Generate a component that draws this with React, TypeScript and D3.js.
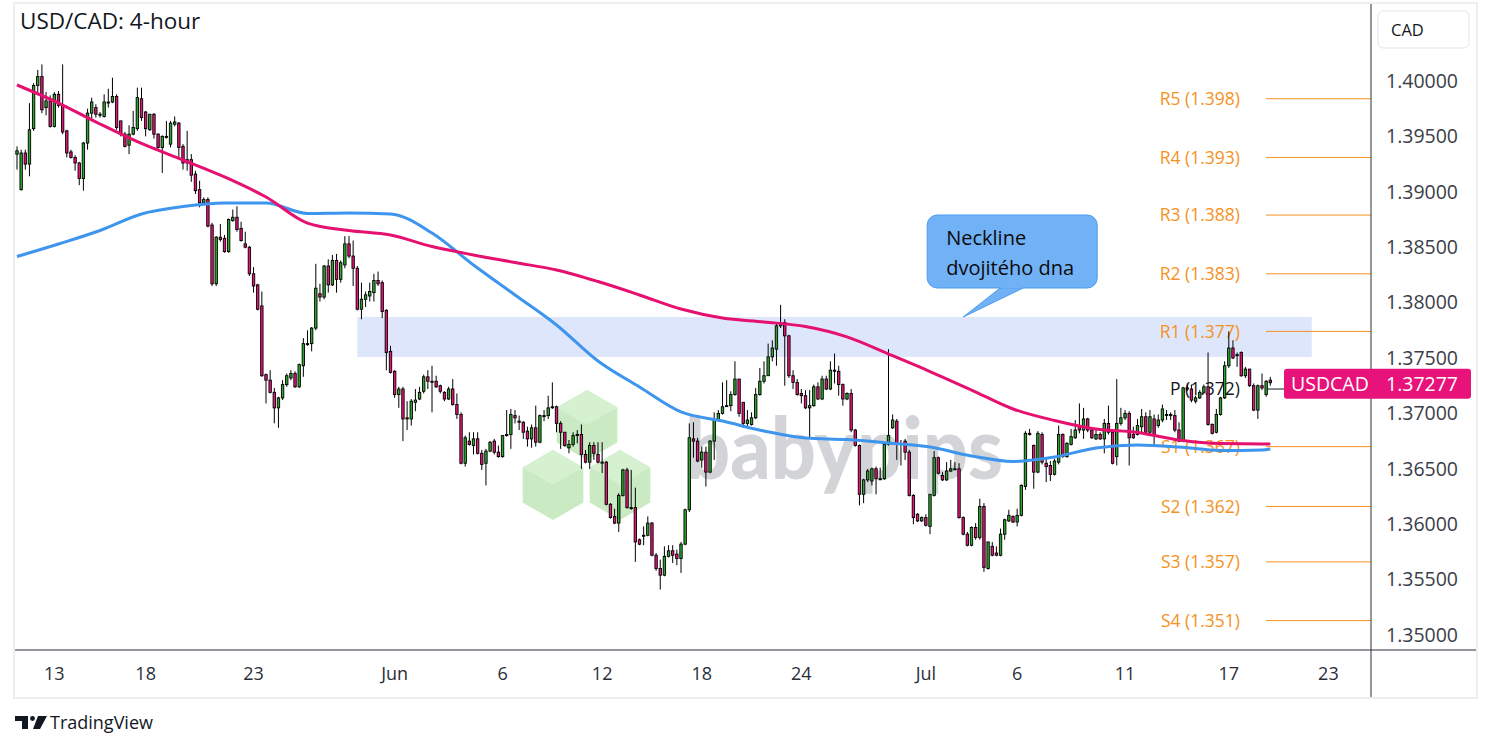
import React from "react";
import * as d3 from "d3";

// USD/CAD 4-hour candles, [open, high, low, close]
const ohlc: [number, number, number, number][] = [
  [1.3934, 1.3941, 1.392, 1.3937], [1.3902, 1.3938, 1.3901, 1.3935], [1.3935, 1.3938, 1.392, 1.3925],
  [1.3925, 1.398, 1.3914, 1.3956], [1.3957, 1.3998, 1.3955, 1.3996], [1.3996, 1.401, 1.3988, 1.4004],
  [1.4004, 1.4015, 1.3971, 1.3974], [1.3976, 1.399, 1.3969, 1.3982], [1.3982, 1.3987, 1.3958, 1.3959],
  [1.3959, 1.399, 1.3958, 1.3988], [1.3988, 1.3991, 1.3976, 1.3978], [1.3978, 1.4015, 1.3952, 1.3954],
  [1.3955, 1.3956, 1.3931, 1.3935], [1.3936, 1.3938, 1.393, 1.3931], [1.3931, 1.3933, 1.3919, 1.3926],
  [1.3926, 1.3927, 1.3906, 1.3912], [1.3912, 1.3945, 1.3901, 1.3944], [1.3944, 1.3975, 1.3938, 1.3971],
  [1.3971, 1.3985, 1.3966, 1.3981], [1.3976, 1.3979, 1.3967, 1.397], [1.397, 1.3972, 1.3967, 1.397],
  [1.3968, 1.3988, 1.3967, 1.3981], [1.3981, 1.3993, 1.3976, 1.3981], [1.3981, 1.4003, 1.398, 1.3986],
  [1.3986, 1.3988, 1.3956, 1.3958], [1.3964, 1.3964, 1.395, 1.3952], [1.3952, 1.3954, 1.394, 1.3941],
  [1.3942, 1.396, 1.3934, 1.3952], [1.3952, 1.3973, 1.3951, 1.3958], [1.3957, 1.3994, 1.3955, 1.3985],
  [1.3984, 1.3994, 1.3964, 1.3967], [1.3972, 1.3973, 1.395, 1.3957], [1.3956, 1.397, 1.3955, 1.397],
  [1.397, 1.3971, 1.3948, 1.3952], [1.3952, 1.3953, 1.3939, 1.394], [1.394, 1.3951, 1.3917, 1.395],
  [1.395, 1.3964, 1.3948, 1.395], [1.3943, 1.3964, 1.394, 1.3962], [1.3961, 1.3968, 1.3959, 1.3963],
  [1.3962, 1.3963, 1.3931, 1.394], [1.3941, 1.3943, 1.392, 1.3926], [1.3926, 1.3955, 1.3919, 1.3929],
  [1.3929, 1.3934, 1.3909, 1.3915], [1.3916, 1.3919, 1.3898, 1.3901], [1.3902, 1.391, 1.3886, 1.389],
  [1.389, 1.3895, 1.3888, 1.3893], [1.3893, 1.3895, 1.3868, 1.3869], [1.387, 1.3872, 1.3815, 1.3817],
  [1.3817, 1.386, 1.3815, 1.3859], [1.3859, 1.3871, 1.3855, 1.3857], [1.3858, 1.3861, 1.3845, 1.3846],
  [1.3846, 1.3876, 1.3845, 1.3875], [1.3874, 1.3884, 1.3873, 1.3877], [1.3877, 1.3887, 1.3864, 1.3866],
  [1.3867, 1.3873, 1.3855, 1.3856], [1.3853, 1.3864, 1.3849, 1.385], [1.385, 1.3851, 1.3824, 1.3826],
  [1.3826, 1.3832, 1.3809, 1.3815], [1.3816, 1.3817, 1.3793, 1.3794], [1.3797, 1.381, 1.3733, 1.3734],
  [1.3735, 1.3736, 1.3709, 1.373], [1.373, 1.3739, 1.3718, 1.3719], [1.3719, 1.3723, 1.3691, 1.3705],
  [1.3705, 1.3715, 1.3687, 1.3714], [1.3714, 1.373, 1.3712, 1.3726], [1.3726, 1.3736, 1.3724, 1.3734],
  [1.3732, 1.3739, 1.373, 1.3736], [1.3736, 1.3738, 1.3723, 1.3724], [1.3724, 1.3745, 1.3723, 1.3744],
  [1.3743, 1.3768, 1.3733, 1.3763], [1.3763, 1.3775, 1.3761, 1.3763], [1.3763, 1.3778, 1.3756, 1.3777],
  [1.3777, 1.3835, 1.3775, 1.3813], [1.3808, 1.3817, 1.3801, 1.3805], [1.3805, 1.3834, 1.3803, 1.3833],
  [1.3833, 1.3839, 1.3809, 1.3816], [1.3816, 1.3843, 1.3815, 1.3838], [1.3838, 1.3844, 1.3809, 1.3821],
  [1.3821, 1.3838, 1.3818, 1.3836], [1.3834, 1.386, 1.3831, 1.3853], [1.3853, 1.386, 1.384, 1.3842],
  [1.3842, 1.3856, 1.3815, 1.3831], [1.3831, 1.3833, 1.3793, 1.3794], [1.3794, 1.3818, 1.3785, 1.3803],
  [1.3803, 1.381, 1.3796, 1.3807], [1.3806, 1.3818, 1.3801, 1.381], [1.3809, 1.3826, 1.3801, 1.382],
  [1.382, 1.3828, 1.3815, 1.3817], [1.3818, 1.382, 1.3786, 1.3792], [1.3793, 1.3794, 1.3739, 1.3755],
  [1.3756, 1.3761, 1.3736, 1.3737], [1.3738, 1.3739, 1.3714, 1.3717], [1.3717, 1.3724, 1.3705, 1.3722],
  [1.3722, 1.3724, 1.3675, 1.3695], [1.3695, 1.3711, 1.3685, 1.3696], [1.3695, 1.3713, 1.3689, 1.3711],
  [1.371, 1.3722, 1.3702, 1.3712], [1.3713, 1.3724, 1.3712, 1.3719], [1.372, 1.3735, 1.3718, 1.3733],
  [1.3733, 1.3739, 1.3722, 1.3729], [1.3729, 1.3743, 1.3701, 1.3729], [1.3729, 1.3734, 1.3723, 1.3724],
  [1.3725, 1.3726, 1.3718, 1.372], [1.3719, 1.372, 1.3711, 1.3713], [1.3713, 1.3724, 1.3712, 1.3722],
  [1.3722, 1.3731, 1.3707, 1.3708], [1.3708, 1.3718, 1.3695, 1.3699], [1.3699, 1.3701, 1.3654, 1.3655],
  [1.3655, 1.368, 1.3652, 1.3678], [1.3675, 1.3683, 1.3671, 1.3672], [1.3671, 1.3683, 1.3663, 1.3677],
  [1.3677, 1.3683, 1.3663, 1.3664], [1.3664, 1.3667, 1.3649, 1.3654], [1.3655, 1.3668, 1.3635, 1.3666],
  [1.3666, 1.3675, 1.3665, 1.3674], [1.3675, 1.3677, 1.3663, 1.3665], [1.3665, 1.3671, 1.366, 1.3661],
  [1.3661, 1.368, 1.366, 1.368], [1.368, 1.3703, 1.3679, 1.3681], [1.3681, 1.3704, 1.3668, 1.3699],
  [1.3698, 1.3703, 1.3691, 1.3696], [1.3693, 1.3698, 1.3685, 1.3692], [1.3692, 1.3693, 1.3677, 1.3683],
  [1.3684, 1.3688, 1.367, 1.3677], [1.3677, 1.369, 1.3669, 1.3687], [1.3687, 1.3707, 1.367, 1.3674],
  [1.3674, 1.3699, 1.3673, 1.3698], [1.3698, 1.3703, 1.3693, 1.3698], [1.3698, 1.3716, 1.3695, 1.3705],
  [1.3706, 1.3728, 1.3704, 1.3706], [1.3706, 1.3707, 1.3683, 1.3691], [1.3691, 1.3693, 1.3668, 1.3683],
  [1.3683, 1.3683, 1.367, 1.3671], [1.3669, 1.3676, 1.3664, 1.3672], [1.3672, 1.3683, 1.367, 1.368],
  [1.3681, 1.3685, 1.3673, 1.3681], [1.3681, 1.369, 1.365, 1.3663], [1.3663, 1.3667, 1.3655, 1.3656],
  [1.3656, 1.3674, 1.365, 1.3671], [1.3671, 1.3674, 1.3658, 1.3664], [1.3663, 1.3674, 1.3655, 1.3656],
  [1.3656, 1.3674, 1.3646, 1.3656], [1.3656, 1.3657, 1.3617, 1.3618], [1.3618, 1.3619, 1.3605, 1.3606],
  [1.3607, 1.3614, 1.36, 1.3601], [1.3601, 1.3628, 1.3593, 1.3626], [1.3626, 1.365, 1.3625, 1.3649],
  [1.3649, 1.3651, 1.3614, 1.3615], [1.3615, 1.3649, 1.3613, 1.3615], [1.3615, 1.3633, 1.3566, 1.3584],
  [1.3586, 1.3587, 1.3581, 1.3582], [1.359, 1.3598, 1.3581, 1.359], [1.359, 1.3607, 1.3589, 1.3601],
  [1.3601, 1.3602, 1.3571, 1.3572], [1.3572, 1.3574, 1.3558, 1.356], [1.356, 1.3568, 1.3541, 1.3554],
  [1.3554, 1.358, 1.3553, 1.3571], [1.3571, 1.3581, 1.357, 1.3576], [1.3576, 1.3581, 1.3565, 1.3572],
  [1.3573, 1.3577, 1.3563, 1.3569], [1.3569, 1.3584, 1.3556, 1.3582], [1.3582, 1.3614, 1.3581, 1.3613],
  [1.3613, 1.3691, 1.3611, 1.3678], [1.3677, 1.3692, 1.366, 1.3675], [1.3675, 1.3678, 1.3656, 1.3657],
  [1.3658, 1.367, 1.3651, 1.3665], [1.3665, 1.367, 1.3634, 1.3647], [1.3647, 1.3676, 1.3646, 1.3675],
  [1.3675, 1.3701, 1.3658, 1.3694], [1.3694, 1.3703, 1.3693, 1.37], [1.37, 1.3728, 1.3699, 1.3706],
  [1.3707, 1.373, 1.3706, 1.3707], [1.3707, 1.372, 1.3702, 1.3717], [1.3717, 1.3747, 1.3716, 1.3731],
  [1.3731, 1.3731, 1.3697, 1.37], [1.371, 1.371, 1.3687, 1.3691], [1.3691, 1.3703, 1.3688, 1.3694],
  [1.369, 1.3701, 1.3689, 1.3696], [1.3696, 1.3723, 1.3695, 1.3717], [1.3717, 1.3741, 1.3716, 1.3729],
  [1.3729, 1.3747, 1.3727, 1.3734], [1.3734, 1.3763, 1.3734, 1.3751], [1.3751, 1.3766, 1.3747, 1.3759],
  [1.3758, 1.3781, 1.3743, 1.3779], [1.3779, 1.3798, 1.3777, 1.3781], [1.3782, 1.3785, 1.3725, 1.377],
  [1.377, 1.3771, 1.3732, 1.3734], [1.3734, 1.3739, 1.3722, 1.3728], [1.3728, 1.3731, 1.3716, 1.3717],
  [1.3718, 1.3722, 1.3709, 1.3716], [1.3716, 1.3721, 1.3704, 1.3705], [1.3705, 1.3721, 1.3678, 1.3707],
  [1.3707, 1.3726, 1.3706, 1.3724], [1.3724, 1.3728, 1.3712, 1.3713], [1.3713, 1.3734, 1.3712, 1.3731],
  [1.3731, 1.3734, 1.3721, 1.3722], [1.3722, 1.3747, 1.3721, 1.3739], [1.3739, 1.3754, 1.3727, 1.3738],
  [1.3738, 1.3743, 1.3716, 1.3726], [1.3726, 1.3727, 1.3707, 1.3713], [1.3713, 1.3719, 1.3712, 1.3718],
  [1.3718, 1.3722, 1.3683, 1.3685], [1.3685, 1.3686, 1.367, 1.3671], [1.3671, 1.3672, 1.3617, 1.3627],
  [1.3627, 1.3641, 1.3619, 1.364], [1.364, 1.365, 1.3638, 1.3648], [1.3639, 1.3651, 1.3635, 1.365],
  [1.365, 1.3652, 1.3627, 1.3641], [1.3641, 1.3651, 1.364, 1.3641], [1.3641, 1.3673, 1.364, 1.3672],
  [1.3672, 1.3758, 1.3671, 1.368], [1.3687, 1.3699, 1.3686, 1.3694], [1.3693, 1.3695, 1.3658, 1.3672],
  [1.3673, 1.3676, 1.3653, 1.3673], [1.3675, 1.3677, 1.3658, 1.3665], [1.3665, 1.3667, 1.3625, 1.3626],
  [1.3626, 1.3627, 1.36, 1.3606], [1.3609, 1.361, 1.3602, 1.3603], [1.3603, 1.3607, 1.3602, 1.3606],
  [1.3606, 1.3609, 1.3598, 1.3599], [1.3598, 1.3627, 1.3591, 1.3627], [1.3626, 1.3666, 1.3625, 1.366],
  [1.366, 1.3661, 1.3645, 1.3646], [1.3644, 1.3647, 1.3639, 1.364], [1.364, 1.3656, 1.3639, 1.3648],
  [1.3648, 1.3658, 1.3647, 1.365], [1.365, 1.3656, 1.3649, 1.365], [1.365, 1.3655, 1.3605, 1.3606],
  [1.3606, 1.3607, 1.359, 1.3591], [1.3591, 1.3593, 1.358, 1.3581], [1.3581, 1.3598, 1.358, 1.3597],
  [1.3597, 1.3601, 1.3586, 1.3588], [1.3588, 1.3623, 1.3586, 1.3616], [1.3616, 1.3619, 1.3557, 1.3561],
  [1.356, 1.3584, 1.3559, 1.3584], [1.358, 1.3584, 1.3571, 1.3572], [1.3574, 1.358, 1.3571, 1.3572],
  [1.3572, 1.3596, 1.3571, 1.3591], [1.3591, 1.3605, 1.3586, 1.3604], [1.3603, 1.3613, 1.3602, 1.3608],
  [1.3607, 1.3608, 1.3601, 1.3602], [1.3602, 1.3614, 1.3598, 1.3608], [1.3608, 1.3636, 1.3607, 1.3635],
  [1.3634, 1.3684, 1.3631, 1.3682], [1.3682, 1.3686, 1.368, 1.3681], [1.3671, 1.3672, 1.3632, 1.3647],
  [1.3647, 1.3684, 1.3646, 1.3682], [1.3681, 1.3683, 1.3654, 1.3656], [1.3655, 1.366, 1.3638, 1.3652],
  [1.3653, 1.3657, 1.3639, 1.3645], [1.3645, 1.3659, 1.3644, 1.3657], [1.3656, 1.3689, 1.3654, 1.3681],
  [1.3681, 1.3682, 1.366, 1.3661], [1.3661, 1.3674, 1.366, 1.3673], [1.3672, 1.3686, 1.3671, 1.3679],
  [1.3678, 1.3694, 1.3677, 1.3685], [1.3688, 1.3709, 1.3682, 1.3685], [1.3685, 1.3705, 1.3677, 1.3695],
  [1.3695, 1.3696, 1.3683, 1.3685], [1.3685, 1.3686, 1.3677, 1.3678], [1.3677, 1.3685, 1.3676, 1.3681],
  [1.3681, 1.3683, 1.3676, 1.3677], [1.3677, 1.3695, 1.3664, 1.3691], [1.3691, 1.3707, 1.3681, 1.3683],
  [1.3683, 1.3684, 1.3654, 1.3655], [1.3661, 1.3731, 1.3653, 1.3691], [1.3691, 1.3705, 1.3689, 1.3696],
  [1.3696, 1.3703, 1.3694, 1.37], [1.37, 1.3702, 1.3653, 1.3678], [1.3681, 1.3688, 1.3677, 1.3678],
  [1.3681, 1.3695, 1.368, 1.3689], [1.3688, 1.3704, 1.3683, 1.3697], [1.3697, 1.3701, 1.3682, 1.3683],
  [1.3683, 1.3703, 1.368, 1.3697], [1.3695, 1.3699, 1.3671, 1.3681], [1.3689, 1.3699, 1.3687, 1.3694],
  [1.3694, 1.3708, 1.3692, 1.3704], [1.3699, 1.3703, 1.3694, 1.3699], [1.3699, 1.3701, 1.3694, 1.3698],
  [1.3698, 1.3703, 1.3683, 1.3685], [1.3685, 1.3692, 1.3674, 1.3675], [1.3675, 1.3724, 1.3674, 1.3723],
  [1.3723, 1.3727, 1.372, 1.3722], [1.3722, 1.3726, 1.371, 1.3712], [1.3711, 1.3716, 1.3709, 1.3714],
  [1.3714, 1.3721, 1.3713, 1.3719], [1.3719, 1.3726, 1.3718, 1.3724], [1.3724, 1.3755, 1.3689, 1.369],
  [1.369, 1.3691, 1.3681, 1.3682], [1.3683, 1.3704, 1.3682, 1.3699], [1.3699, 1.3715, 1.3698, 1.3714],
  [1.3714, 1.3747, 1.3713, 1.3743], [1.3743, 1.3774, 1.3741, 1.3759], [1.3759, 1.3766, 1.3749, 1.375],
  [1.3753, 1.3755, 1.3742, 1.3753], [1.3755, 1.3756, 1.3733, 1.3734], [1.3734, 1.3742, 1.3732, 1.374],
  [1.374, 1.374, 1.3724, 1.3725], [1.3725, 1.3727, 1.3702, 1.3703], [1.3703, 1.3726, 1.3695, 1.3725],
  [1.3725, 1.3736, 1.3721, 1.3723], [1.3717, 1.373, 1.3715, 1.3729], [1.373, 1.3733, 1.3725, 1.37277],
];

// moving averages at these candle positions
const maIndex = [0, 10, 20, 30, 40, 50, 60, 70, 80, 90, 100, 110, 120, 130, 140, 150, 160, 170, 180, 190, 200, 210, 220, 230, 240, 250, 260, 270, 280, 290, 300, 302];
const maPink = [1.39964, 1.39801, 1.39612, 1.39436, 1.39287, 1.39134, 1.38953, 1.38718, 1.38651, 1.3861, 1.38506, 1.3843, 1.38362, 1.38294, 1.3819, 1.38069, 1.37942, 1.37861, 1.37825, 1.37784, 1.3769, 1.37536, 1.37378, 1.37211, 1.3704, 1.36936, 1.36859, 1.36828, 1.3676, 1.36728, 1.36724, 1.36724];
const maBlue = [1.38416, 1.38529, 1.38651, 1.388, 1.38867, 1.38899, 1.38899, 1.38804, 1.38809, 1.388, 1.38628, 1.38339, 1.38069, 1.37798, 1.37473, 1.37238, 1.37013, 1.36931, 1.36841, 1.36778, 1.36764, 1.36733, 1.36697, 1.36616, 1.36566, 1.36606, 1.36688, 1.36715, 1.36697, 1.36665, 1.3667, 1.36679];

const xTickLabels = ["13", "18", "23", "Jun", "6", "12", "18", "24", "Jul", "6", "11", "17", "23"];
const xTickIndex = [9, 31, 57, 91, 117, 141, 165, 189, 219, 241, 267, 292, 316];
const yTicks = [1.35, 1.355, 1.36, 1.365, 1.37, 1.375, 1.38, 1.385, 1.39, 1.395, 1.4];

const pivotNames = ["R5", "R4", "R3", "R2", "R1", "P", "S1", "S2", "S3", "S4"];
const pivotValues = [1.3984, 1.3931, 1.3879, 1.3826, 1.3774, 1.3722, 1.367, 1.3616, 1.3566, 1.3513];

const zone = { from: 82, to: 312, low: 1.3751, high: 1.3787 };
const calloutLines = ["Neckline", "dvojitého dna"];
const calloutAt = 228;
const symbol = "USDCAD";

const W = 1491;
const H = 750;
const plot = { left: 15, right: 1371, top: 4, bottom: 650 };
const FONT = "'Open Sans', 'Noto Sans', sans-serif";
const GREEN = "#2aa72a";
const PINK = "#e8137a";
const ORANGE = "#f5921e";

const x = d3.scaleLinear().domain([0, 1]).range([17, 21.15]);
const y = d3.scaleLinear().domain([1.35, 1.4]).range([635, 81]);

function hex(cx: number, cy: number, r: number) {
  const pts = d3.range(6).map((k) => {
    const a = (Math.PI / 3) * k - Math.PI / 2;
    return [cx + r * Math.cos(a), cy + r * Math.sin(a)];
  });
  return "M" + pts.map((p) => p.join(",")).join("L") + "Z";
}

function cubeTop(cx: number, cy: number, r: number) {
  const w = r * Math.cos(Math.PI / 6);
  return `M${cx},${cy - r}L${cx + w},${cy - r / 2}L${cx},${cy}L${cx - w},${cy - r / 2}Z`;
}

const App: React.FC = () => {
  const line = d3
    .line<number>()
    .x((_, k) => x(maIndex[k]))
    .y((v) => y(v))
    .curve(d3.curveMonotoneX);

  const last = ohlc[ohlc.length - 1][3];
  const tip = { x: x(calloutAt), y: y(zone.high) };
  const cubes = [
    [587, 425],
    [553, 485],
    [620, 485],
  ];

  return (
    <svg
      width={W}
      height={H}
      style={{ position: "absolute", left: 0, top: 0, background: "#fff" }}
      fontFamily={FONT}
    >
      <defs>
        <clipPath id="plotClip">
          <rect x={plot.left} y={plot.top} width={plot.right - plot.left} height={plot.bottom - plot.top} />
        </clipPath>
      </defs>

      <rect x={14} y={3} width={1463} height={695} fill="#fff" stroke="#eceef2" strokeWidth={2} />

      {/* watermark */}
      <g>
        {cubes.map(([cx, cy], k) => (
          <g key={k}>
            <path d={hex(cx, cy, 35)} fill="#c9eac3" />
            <path d={cubeTop(cx, cy, 35)} fill="#d5f1d0" />
          </g>
        ))}
        <text
          x={685}
          y={479}
          fontFamily="Lato, 'Open Sans', sans-serif"
          fontWeight={900}
          fontSize={86}
          fill="#d3d4d7"
          textLength={318}
          lengthAdjust="spacingAndGlyphs"
        >
          babypips
        </text>
      </g>

      {/* neckline zone */}
      <rect
        x={x(zone.from)}
        y={y(zone.high)}
        width={x(zone.to) - x(zone.from)}
        height={y(zone.low) - y(zone.high)}
        fill="#dee6fc"
      />

      {/* pivot levels */}
      {pivotNames.map((n, k) => {
        const py = y(pivotValues[k]);
        const col = n === "P" ? "#131722" : ORANGE;
        return (
          <g key={n}>
            <line x1={1266} x2={plot.right} y1={py} y2={py} stroke={col} strokeWidth={1} />
            <text x={1240} y={py} dy="0.35em" textAnchor="end" fontSize={17.5} fill={col}>
              {`${n} (${pivotValues[k].toFixed(3)})`}
            </text>
          </g>
        );
      })}

      {/* candles */}
      <g clipPath="url(#plotClip)">
        {ohlc.map(([o, h, l, c], i) => {
          const cx = x(i);
          const top = y(Math.max(o, c));
          const bh = Math.max(1, Math.abs(y(o) - y(c)));
          return (
            <g key={i}>
              <line x1={cx} x2={cx} y1={y(h)} y2={y(l)} stroke="#000" strokeWidth={1} />
              <rect
                x={cx - 1.2}
                y={top}
                width={2.4}
                height={bh}
                fill={c >= o ? GREEN : PINK}
                stroke="#000"
                strokeWidth={0.9}
              />
            </g>
          );
        })}
        <path d={line(maBlue) || ""} fill="none" stroke="#3d95ee" strokeWidth={3} />
        <path d={line(maPink) || ""} fill="none" stroke="#e5106f" strokeWidth={3} />
      </g>

      {/* callout */}
      <g>
        <path
          d={`M${tip.x + 37},${tip.y - 29}L${tip.x + 60},${tip.y - 29}L${tip.x},${tip.y}Z`}
          fill="#71b1f6"
          stroke="#4b9bf0"
          strokeWidth={1}
        />
        <rect
          x={tip.x - 36}
          y={tip.y - 102}
          width={170}
          height={73}
          rx={10}
          fill="#71b1f6"
          stroke="#4b9bf0"
          strokeWidth={1}
        />
        <path d={`M${tip.x + 38},${tip.y - 29.5}L${tip.x + 59},${tip.y - 29.5}`} stroke="#71b1f6" strokeWidth={2} />
        {calloutLines.map((t, k) => (
          <text key={t} x={tip.x - 17} y={tip.y - 72 + k * 30} fontSize={20} fill="#0b0b0b">
            {t}
          </text>
        ))}
      </g>

      {/* title */}
      <text x={20} y={29} fontSize={22.5} fill="#131722">
        USD/CAD: 4-hour
      </text>

      {/* axes */}
      <line x1={plot.left} x2={1476} y1={plot.bottom} y2={plot.bottom} stroke="#2a2e39" strokeWidth={1} />
      <line x1={plot.right} x2={plot.right} y1={plot.top} y2={697} stroke="#2a2e39" strokeWidth={1} />
      {xTickLabels.map((t, k) => (
        <text key={k} x={x(xTickIndex[k])} y={680} textAnchor="middle" fontSize={18} fill="#2a2e39">
          {t}
        </text>
      ))}
      {yTicks.map((v) => (
        <text key={v} x={1386} y={y(v)} dy="0.35em" fontSize={19.5} fill="#3b3e48">
          {v.toFixed(5)}
        </text>
      ))}

      <rect x={1378} y={11} width={91} height={37} rx={5} fill="#fff" stroke="#e3e5ea" />
      <text x={1391} y={35.5} fontSize={16.5} fill="#131722">
        CAD
      </text>

      {/* last price label */}
      <rect x={1284} y={y(last) - 14} width={187} height={30} rx={3} fill={PINK} />
      <text x={1291} y={y(last) + 1} dy="0.35em" fontSize={19.5} fill="#fff" fontWeight={500}>
        {symbol}
      </text>
      <text x={1386} y={y(last) + 1} dy="0.35em" fontSize={19.5} fill="#fff" fontWeight={500}>
        {last.toFixed(5)}
      </text>

      {/* TradingView mark */}
      <g fill="#131722">
        <path d="M15 716 H28 V729 H22 V721 H15 Z" />
        <circle cx={32.5} cy={718.5} r={2.4} />
        <path d="M38 716 H47 L40 729 H33 Z" />
        <text x={50} y={729} fontSize={18}>
          TradingView
        </text>
      </g>
    </svg>
  );
};

export default App;
